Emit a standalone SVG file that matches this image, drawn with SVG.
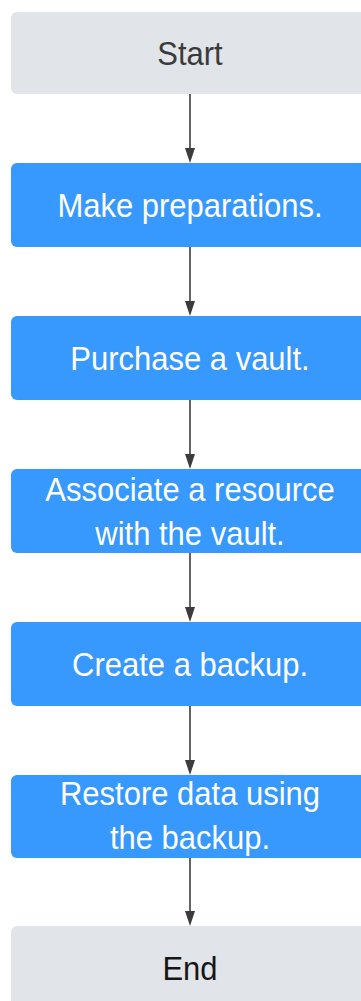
<svg xmlns="http://www.w3.org/2000/svg" width="361" height="1001" viewBox="0 0 361 1001">
<style>
.gray{fill:#e1e4e8}
.blue{fill:#3798fd}
text{font-family:"Liberation Sans",Arial,sans-serif;font-size:31px;text-anchor:middle}
.w{fill:#ffffff}
.d{fill:#3a3a3a}
.k{fill:#161616}
.c{stroke:#3c3c3c;stroke-width:1.6;fill:none}
.h{fill:#3c3c3c}
</style>
<g id="connectors">
<line class="c" x1="190" y1="94" x2="190" y2="150"/>
<path class="h" d="M185,148 L195,148 L190,163 Z"/>
<line class="c" x1="190" y1="247" x2="190" y2="303"/>
<path class="h" d="M185,301 L195,301 L190,316 Z"/>
<line class="c" x1="190" y1="400" x2="190" y2="456"/>
<path class="h" d="M185,454 L195,454 L190,469 Z"/>
<line class="c" x1="190" y1="553" x2="190" y2="609"/>
<path class="h" d="M185,607 L195,607 L190,622 Z"/>
<line class="c" x1="190" y1="706" x2="190" y2="762"/>
<path class="h" d="M185,760 L195,760 L190,775 Z"/>
<line class="c" x1="190" y1="858" x2="190" y2="913"/>
<path class="h" d="M185,911 L195,911 L190,926 Z"/>
</g>
<g id="start">
<rect class="gray" x="11" y="12" width="358" height="82" rx="6"/>
<text class="d" transform="translate(190,65) scale(1,1.08)">Start</text>
</g>
<g id="prep">
<rect class="blue" x="11" y="163" width="358" height="84" rx="6"/>
<text class="w" transform="translate(190,216.5) scale(1,1.08)">Make preparations.</text>
</g>
<g id="purchase">
<rect class="blue" x="11" y="316" width="358" height="84" rx="6"/>
<text class="w" transform="translate(190,369.5) scale(1,1.08)">Purchase a vault.</text>
</g>
<g id="associate">
<rect class="blue" x="11" y="469" width="358" height="84" rx="6"/>
<text class="w" transform="translate(190,501) scale(1,1.08)">Associate a resource</text>
<text class="w" transform="translate(190,545) scale(1,1.08)">with the vault.</text>
</g>
<g id="create">
<rect class="blue" x="11" y="622" width="358" height="84" rx="6"/>
<text class="w" transform="translate(190,675.5) scale(1,1.08)">Create a backup.</text>
</g>
<g id="restore">
<rect class="blue" x="11" y="775" width="358" height="83" rx="6"/>
<text class="w" transform="translate(190,805) scale(1,1.08)">Restore data using</text>
<text class="w" transform="translate(190,849) scale(1,1.08)">the backup.</text>
</g>
<g id="end">
<rect class="gray" x="11" y="926" width="358" height="84" rx="6"/>
<text class="k" transform="translate(190,979.5) scale(1,1.08)">End</text>
</g>
</svg>
